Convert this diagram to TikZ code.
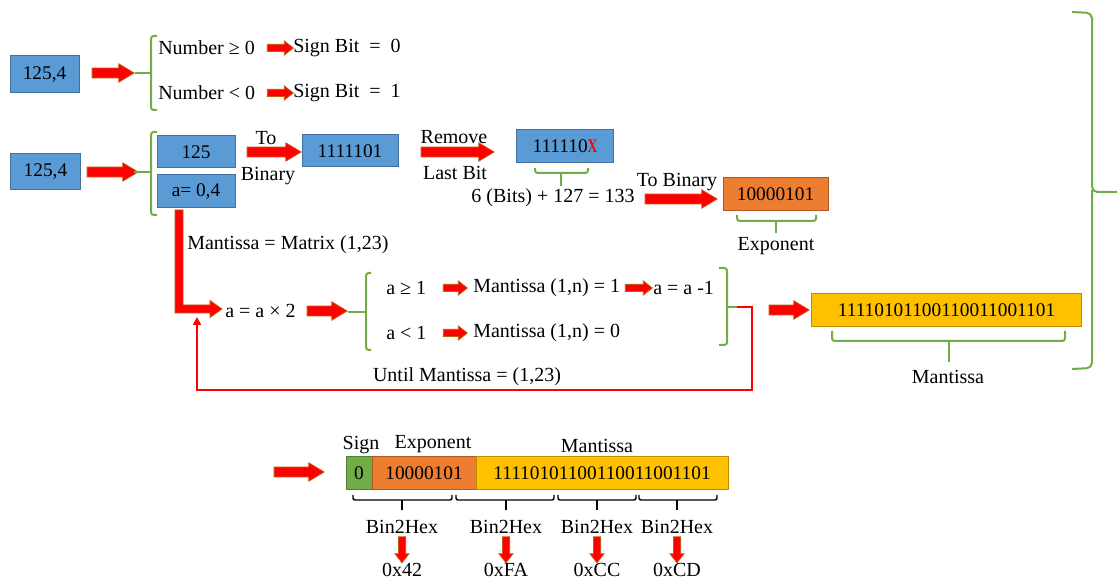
\documentclass[tikz,border=0pt]{standalone}
\usepackage{fontspec}
\setmainfont{Liberation Serif}
\usetikzlibrary{shapes.arrows,arrows.meta}

\definecolor{boxblue}{HTML}{5B9BD5}
\definecolor{boxblueedge}{HTML}{41719C}
\definecolor{boxorange}{HTML}{ED7D31}
\definecolor{boxorangeedge}{HTML}{AE5A21}
\definecolor{boxyellow}{HTML}{FFC000}
\definecolor{boxyellowedge}{HTML}{BC8C00}
\definecolor{boxgreen}{HTML}{70AD47}
\definecolor{boxgreenedge}{HTML}{507E32}
\definecolor{bracegreen}{HTML}{70AD47}
\definecolor{arrowfill}{HTML}{FF0000}
\definecolor{arrowedge}{HTML}{C55A11}

\tikzset{
  box/.style={draw, line width=0.75pt, inner sep=0pt, font=\fontsize{14.5pt}{17pt}\selectfont},
  bluebox/.style={box, draw=boxblueedge, fill=boxblue},
  orangebox/.style={box, draw=boxorangeedge, fill=boxorange},
  yellowbox/.style={box, draw=boxyellowedge, fill=boxyellow},
  greenbox/.style={box, draw=boxgreenedge, fill=boxgreen},
  lbl/.style={inner sep=0pt},
  lblw/.style={inner sep=0pt, anchor=west},
  blockarr/.style={single arrow, draw=arrowedge, fill=arrowfill, line width=0.6pt,
    inner xsep=0pt, anchor=center, single arrow tip angle=62},
  bigarr/.style={blockarr, inner ysep=3.4pt, single arrow head extend=3.2pt},
  smallarr/.style={blockarr, inner ysep=2.4pt, single arrow head extend=2.6pt, single arrow tip angle=76},
  downarr/.style={smallarr, rotate=-90},
  brace/.style={draw=bracegreen, line width=1.5pt, rounded corners=2pt},
  hexbrace/.style={draw=black, line width=1.1pt, rounded corners=1.5pt},
  loopline/.style={draw=red, line width=1.5pt},
}

\begin{document}
\begin{tikzpicture}[x=0.75pt, y=-0.75pt, font=\fontsize{15pt}{18pt}\selectfont]
\useasboundingbox (0,0) rectangle (1118,580);

% ---------- sign bit ----------
\node[bluebox, minimum width=69*0.75pt, minimum height=37*0.75pt] (num1) at (44.5,74.5) {125,4};
\node[bigarr, minimum height=42*0.75pt] (a1) at (109,73) {};
\draw[brace] (157,36) -- (151,36) -- (151,110) -- (157,110);
\draw[brace] (135,73) -- (151,73);
\node[lblw] (ge0) at (158,48) {Number ≥ 0};
\node[smallarr, minimum height=26*0.75pt] (s1) at (278,48) {};
\node[lblw] (sb0) at (293,48) {Sign Bit\ \ =\ \ 0};
\node[lblw] (lt0) at (158,93) {Number < 0};
\node[smallarr, minimum height=26*0.75pt] (s2) at (278,93) {};
\node[lblw] (sb1) at (293,93) {Sign Bit\ \ =\ \ 1};

% ---------- exponent ----------
\node[bluebox, minimum width=70*0.75pt, minimum height=36*0.75pt] (num2) at (45.5,172) {125,4};
\node[bigarr, minimum height=51*0.75pt] (a2) at (108.5,172) {};
\draw[brace] (157,132) -- (151,132) -- (151,215) -- (157,215);
\draw[brace] (134,172) -- (151,172);
\node[bluebox, minimum width=78*0.75pt, minimum height=32*0.75pt] (ipart) at (196,152) {125};
\node[bluebox, minimum width=78*0.75pt, minimum height=33*0.75pt] (fpart) at (196,191.5) {a= 0,4};
\node[lbl] (to1) at (266,138) {To};
\node[lbl] (bin1) at (268,176) {Binary};
\node[bigarr, minimum height=54*0.75pt] (a3) at (270,152) {};
\node[bluebox, minimum width=96*0.75pt, minimum height=32*0.75pt] (ibin) at (350,151) {1111101};
\node[lbl] (rem) at (454,137) {Remove};
\node[lbl] (last) at (455,173) {Last Bit};
\node[bigarr, minimum height=73*0.75pt] (a4) at (453.5,152) {};
\node[bluebox, minimum width=97*0.75pt, minimum height=33*0.75pt] (ishort) at (565,146.5)
  {111110\textcolor{red}{\bfseries\scalebox{0.7}[1]{X}}};
\draw[brace] (535,168) -- (535,173) -- (588,173) -- (588,168);
\draw[brace] (561,173) -- (561,186);
\node[lbl] (bias) at (553,198) {6 (Bits) + 127 = 133};
\node[lbl] (tobin) at (677,182) {To Binary};
\node[bigarr, minimum height=72*0.75pt] (a5) at (677,199) {};
\node[orangebox, minimum width=105*0.75pt, minimum height=33*0.75pt] (expo) at (775.5,194.5) {10000101};
\draw[brace] (737,215) -- (737,221) -- (816,221) -- (816,215);
\draw[brace] (776,221) -- (776,233);
\node[lbl] (expolbl) at (776,246) {Exponent};

% ---------- mantissa ----------
\filldraw[draw=arrowedge, fill=arrowfill, line width=0.6pt]
  (175,210) -- (183,210) -- (183,305) -- (210,305) -- (210,300.5) -- (222,309)
  -- (210,317.5) -- (210,313) -- (175,313) -- cycle;
\node[lblw] (matrix) at (187,245) {Mantissa = Matrix (1,23)};
\node[lblw] (dbl) at (225,311) {a = a × 2};
\node[bigarr, minimum height=40*0.75pt] (a6) at (323,311) {};
\draw[brace] (371,273) -- (366,273) -- (366,350) -- (371,350);
\draw[brace] (348,312) -- (366,312);
\node[lblw] (ge1) at (386,288) {a ≥ 1};
\node[smallarr, minimum height=24*0.75pt] (s3) at (453,288) {};
\node[lblw] (m1) at (473,288) {Mantissa (1,n) = 1};
\node[smallarr, minimum height=27*0.75pt] (s5) at (636.5,288) {};
\node[lblw] (dec) at (653,288) {a = a -1};
\node[lblw] (lt1) at (386,333) {a < 1};
\node[smallarr, minimum height=24*0.75pt] (s4) at (453,333) {};
\node[lblw] (m0) at (473,333) {Mantissa (1,n) = 0};
\draw[brace] (719,268) -- (727,268) -- (727,345) -- (719,345);
\draw[brace] (727,307) -- (738,307);
\coordinate (loopstart) at (737,307);
\coordinate (loopend) at (197,317);
\draw[loopline, -{Triangle[width=6pt,length=6pt]}]
  (loopstart) -- (752,307) -- (752,390) -- (197,390) -- (loopend);
\node[lbl] (until) at (467,377) {Until Mantissa = (1,23)};
\node[bigarr, minimum height=40*0.75pt] (a7) at (785,310) {};
\node[yellowbox, minimum width=270*0.75pt, minimum height=33*0.75pt] (mant) at (946.5,310.5)
  {11110101100110011001101};
\draw[brace] (832,331) -- (832,341) -- (1065,341) -- (1065,331);
\draw[brace] (949,341) -- (949,362);
\node[lbl] (mantlbl) at (948,377) {Mantissa};

% ---------- outer brace ----------
\draw[brace, rounded corners=4pt] (1072,12) -- (1092,13) -- (1092,192) -- (1117,192);
\draw[brace, rounded corners=4pt] (1092,190) -- (1092,368) -- (1072,369);

% ---------- result word ----------
\node[bigarr, minimum height=50*0.75pt] (a8) at (295,472) {};
\node[lbl] (signlbl) at (361,445) {Sign};
\node[lbl] (explbl) at (433,444) {Exponent};
\node[lbl] (mantlbl2) at (597,446) {Mantissa};
\node[greenbox, minimum width=26*0.75pt, minimum height=33*0.75pt] (wsign) at (359,473.5) {0};
\node[orangebox, minimum width=104*0.75pt, minimum height=33*0.75pt] (wexp) at (424,473.5) {10000101};
\node[yellowbox, minimum width=252*0.75pt, minimum height=33*0.75pt] (wmant) at (602,473.5)
  {11110101100110011001101};

% ---------- byte groups ----------
\foreach \xl/\xr/\xc/\hex [count=\i] in {353/452/402/0x42, 456/554/506/0xFA, 558/636/597/0xCC, 639/717/677/0xCD}{
  \draw[hexbrace] (\xl,495) -- (\xl,500) -- (\xr,500) -- (\xr,495);
  \draw[hexbrace] (\xc,500) -- (\xc,510);
  \node[lbl] (b2h\i) at (\xc,527) {Bin2Hex};
  \node[downarr, minimum height=26*0.75pt] (d\i) at (\xc,547.5) {};
  \node[lbl] (hex\i) at (\xc,570) {\hex};
}
\end{tikzpicture}
\end{document}
